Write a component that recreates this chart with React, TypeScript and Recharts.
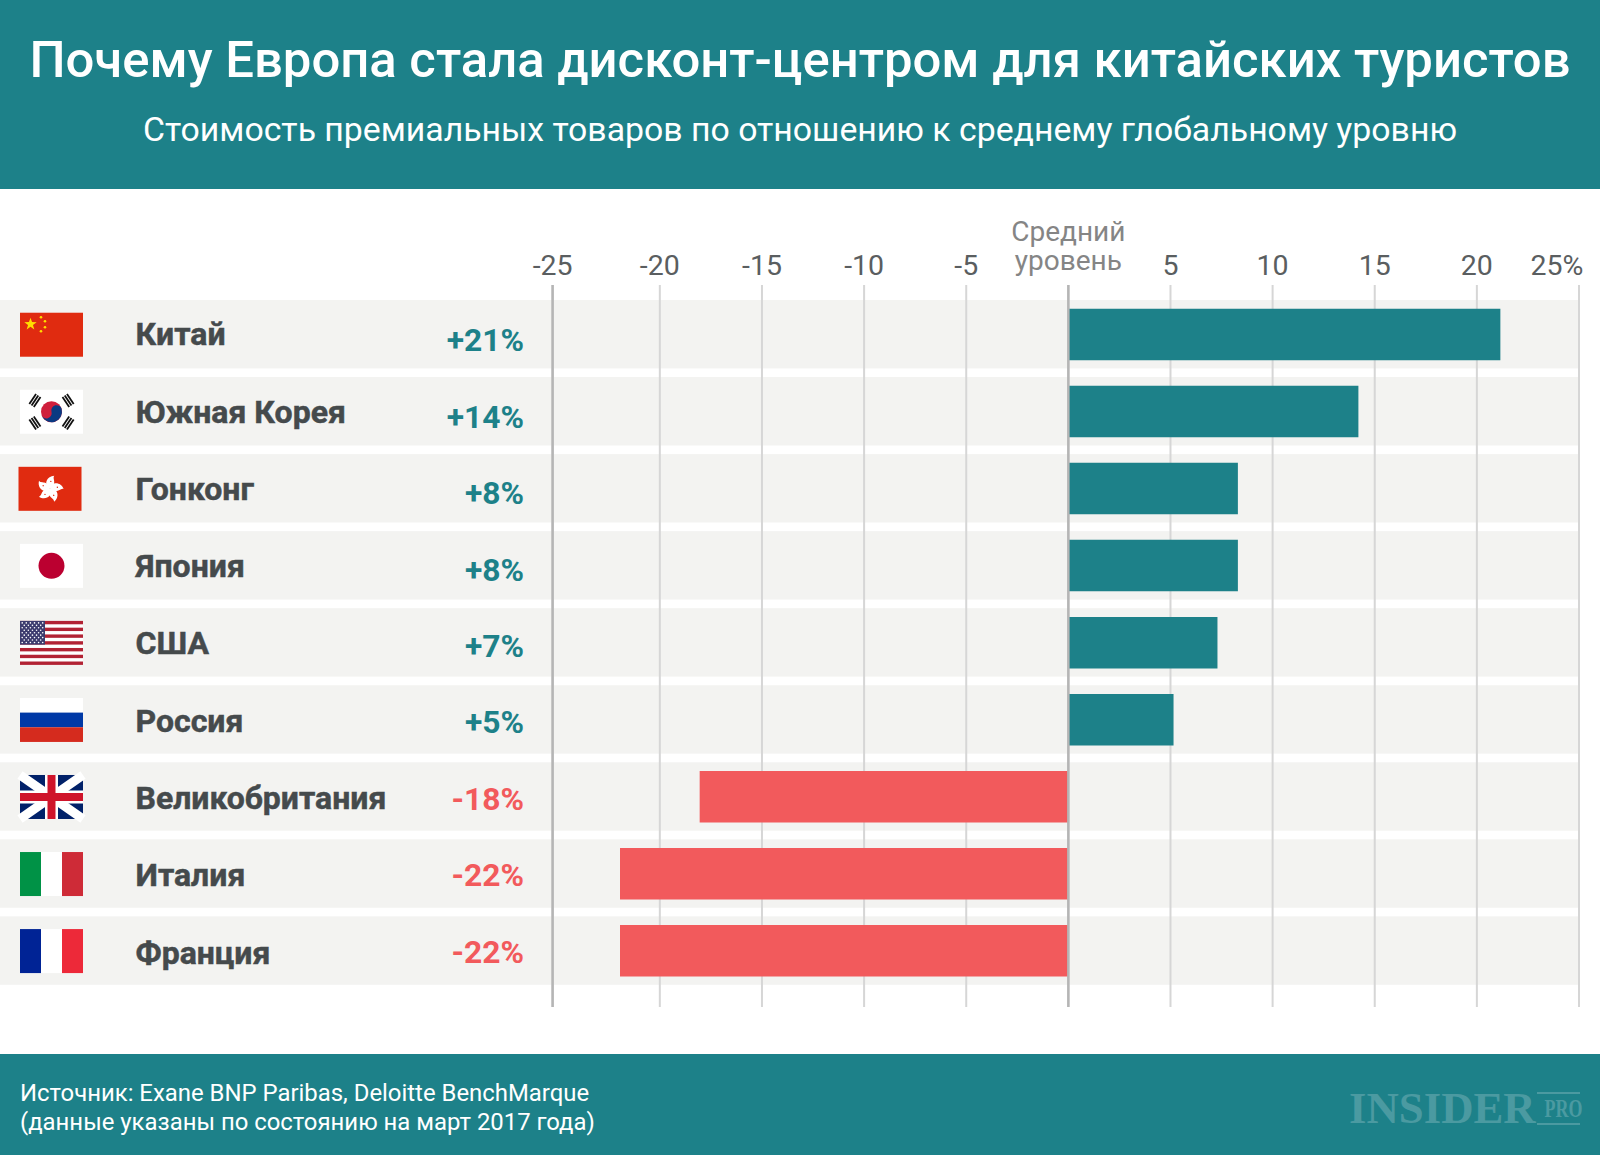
import { BarChart, Bar, Cell, XAxis, YAxis, CartesianGrid, ReferenceLine } from "recharts";

const countries = ["Китай", "Южная Корея", "Гонконг", "Япония", "США", "Россия", "Великобритания", "Италия", "Франция"];
const flagKeys = ["cn", "kr", "hk", "jp", "us", "ru", "uk", "it", "fr"];
// bar lengths as measured on the picture
const barValues = [21.15, 14.2, 8.3, 8.3, 7.3, 5.15, -18.05, -21.95, -21.95];
// rounded numbers printed in the column left of the plot
const printedValues = ["+21%", "+14%", "+8%", "+8%", "+7%", "+5%", "-18%", "-22%", "-22%"];
// the leftmost line sits a little outside the regular 5-step spacing
const axisTicks = [-25.25, -20, -15, -10, -5, 0, 5, 10, 15, 20, 25];
const tickLabels = ["-25", "-20", "-15", "-10", "-5", "", "5", "10", "15", "20", "25%"];

const TEAL = "#1d8189";
const CORAL = "#f25a5c";
const FONT = "Roboto, sans-serif";

const chartData = countries.map((name, i) => ({ name, value: barValues[i] }));
const chartMargin = { top: 225, right: 21, bottom: 148, left: 0 };
const rowPadding = { top: 10.7, bottom: 17.9 };

const starPoints = (cx: number, cy: number, r: number) =>
  Array.from({ length: 10 }, (_, i) => {
    const a = -Math.PI / 2 + (i * Math.PI) / 5;
    const rad = i % 2 ? r * 0.4 : r;
    return `${cx + rad * Math.cos(a)},${cy + rad * Math.sin(a)}`;
  }).join(" ");

const Flag = ({ kind, x, y }: { kind: string; x: number; y: number }) => {
  const w = 63;
  const h = 44;
  if (kind === "cn") {
    return (
      <g transform={`translate(${x},${y})`}>
        <rect width={w} height={h} fill="#e02b10" />
        <polygon points={starPoints(10.5, 11.5, 6.5)} fill="#ffde00" />
        <circle cx={21} cy={4.5} r={1.3} fill="#ffde00" />
        <circle cx={25} cy={8.5} r={1.3} fill="#ffde00" />
        <circle cx={25} cy={14.5} r={1.3} fill="#ffde00" />
        <circle cx={21} cy={18.5} r={1.3} fill="#ffde00" />
      </g>
    );
  }
  if (kind === "kr") {
    const cx = w / 2;
    const cy = h / 2;
    return (
      <g transform={`translate(${x},${y})`}>
        <rect width={w} height={h} fill="#fff" />
        {[-34, 34, 146, 214].map((a) => (
          <g key={a} transform={`translate(${cx},${cy}) rotate(${a + 90}) translate(0,-20)`}>
            <rect x={-6} y={-3.6} width={12} height={1.8} fill="#111" />
            <rect x={-6} y={-0.9} width={12} height={1.8} fill="#111" />
            <rect x={-6} y={1.8} width={12} height={1.8} fill="#111" />
          </g>
        ))}
        <circle cx={cx} cy={cy} r={10.5} fill="#cf1f3c" />
        <path
          d={`M${cx - 10.5},${cy} a10.5,10.5 0 0 0 21,0 a5.25,5.25 0 0 0 -10.5,0 a5.25,5.25 0 0 1 -10.5,0 z`}
          fill="#0a3a82"
          transform={`rotate(-15 ${cx} ${cy})`}
        />
      </g>
    );
  }
  if (kind === "hk") {
    const cx = w / 2;
    const cy = h / 2;
    return (
      <g transform={`translate(${x - 1.5},${y})`}>
        <rect width={w} height={h} fill="#e02b10" />
        {[10, 82, 154, 226, 298].map((a) => (
          <g key={a} transform={`rotate(${a} ${cx} ${cy})`}>
            <path
              d={`M${cx},${cy} C${cx - 8},${cy - 3} ${cx - 5},${cy - 12} ${cx + 2},${cy - 13.5} C${cx},${cy - 10} ${cx + 7},${cy - 7} ${cx},${cy} z`}
              fill="#fff"
            />
            <circle cx={cx - 0.5} cy={cy - 7.5} r={0.7} fill="#e02b10" />
          </g>
        ))}
      </g>
    );
  }
  if (kind === "jp") {
    return (
      <g transform={`translate(${x},${y})`}>
        <rect width={w} height={h} fill="#fff" />
        <circle cx={w / 2} cy={h / 2} r={13} fill="#bb0030" />
      </g>
    );
  }
  if (kind === "us") {
    const stripe = h / 13;
    return (
      <g transform={`translate(${x},${y})`}>
        <rect width={w} height={h} fill="#fff" />
        {Array.from({ length: 7 }, (_, i) => (
          <rect key={i} y={i * 2 * stripe} width={w} height={stripe} fill="#b22234" />
        ))}
        <rect width={25} height={stripe * 7} fill="#3c3b6e" />
        {Array.from({ length: 9 }, (_, r) =>
          Array.from({ length: r % 2 ? 5 : 6 }, (_, c) => (
            <circle key={`${r}-${c}`} cx={2.2 + c * 4.1 + (r % 2 ? 2.05 : 0)} cy={2 + r * 2.45} r={0.8} fill="#fff" />
          ))
        )}
      </g>
    );
  }
  if (kind === "ru") {
    return (
      <g transform={`translate(${x},${y})`}>
        <rect width={w} height={h / 3} fill="#fff" />
        <rect y={h / 3} width={w} height={h / 3} fill="#0039a6" />
        <rect y={(2 * h) / 3} width={w} height={h / 3} fill="#d52b1e" />
      </g>
    );
  }
  if (kind === "uk") {
    return (
      <g transform={`translate(${x},${y})`}>
        <rect width={w} height={h} fill="#012169" />
        <path d={`M0,0 L${w},${h} M${w},0 L0,${h}`} stroke="#fff" strokeWidth={9} />
        <path d={`M${w / 2},0 V${h} M0,${h / 2} H${w}`} stroke="#fff" strokeWidth={13} />
        <path d={`M${w / 2},0 V${h} M0,${h / 2} H${w}`} stroke="#cf142b" strokeWidth={8} />
      </g>
    );
  }
  const colors = kind === "it" ? ["#009246", "#fff", "#ce2b37"] : ["#002395", "#fff", "#ed2939"];
  return (
    <g transform={`translate(${x},${y})`}>
      {colors.map((c, i) => (
        <rect key={i} x={(i * w) / 3} width={w / 3} height={h} fill={c} />
      ))}
    </g>
  );
};

// one row: grey strip, flag, country name and printed value
const RowTick = ({ y, payload }: any) => {
  const i = countries.indexOf(payload.value);
  return (
    <g>
      <rect x={0} y={y - 34.2} width={1579} height={68.4} fill="#f3f3f1" />
      <Flag kind={flagKeys[i]} x={20} y={y - 21.5} />
      <text
        x={135.5}
        y={y + 11 + i * 0.25}
        fontFamily={FONT}
        fontWeight={700}
        fontSize={32}
        stroke="#454a4c"
        strokeWidth={0.5}
        fill="#454a4c"
      >
        {payload.value}
      </text>
      <text
        x={524}
        y={y + 17 - i * 0.6}
        textAnchor="end"
        fontFamily={FONT}
        fontWeight={700}
        fontSize={31.8}
        fill={barValues[i] >= 0 ? TEAL : CORAL}
      >
        {printedValues[i]}
      </text>
    </g>
  );
};

const ValueTick = ({ x, payload }: any) => {
  const i = axisTicks.indexOf(payload.value);
  if (payload.value === 0) {
    return (
      <text textAnchor="middle" fontFamily={FONT} fontSize={28} fill="#858585">
        <tspan x={x} y={240.5}>Средний</tspan>
        <tspan x={x} y={269.5}>уровень</tspan>
      </text>
    );
  }
  // the last label is pulled inwards so it stays on the page
  const labelX = payload.value === 25 ? x - 22 : x;
  return (
    <text x={labelX} y={274.5} textAnchor="middle" fontFamily={FONT} fontSize={28.5} fill="#5a5e60">
      {tickLabels[i]}
    </text>
  );
};

export default function App() {
  return (
    <div style={{ position: "absolute", left: 0, top: 0, width: 1600, height: 1155, background: "#fff", fontFamily: FONT, overflow: "hidden" }}>
      <div style={{ position: "absolute", left: 0, top: 0, width: 1600, height: 189, background: TEAL, color: "#fff", textAlign: "center" }}>
        <div style={{ position: "absolute", left: 0, width: 1600, top: 30, fontSize: 50.85, lineHeight: "60px", fontWeight: 500, whiteSpace: "nowrap" }}>
          Почему Европа стала дисконт-центром для китайских туристов
        </div>
        <div style={{ position: "absolute", left: 0, width: 1600, top: 108, fontSize: 33.8, lineHeight: "44px", fontWeight: 400, whiteSpace: "nowrap" }}>
          Стоимость премиальных товаров по отношению к среднему глобальному уровню
        </div>
      </div>

      {/* strips, flags and names sit in a chart of their own so that the grid and bars stay above them */}
      <div style={{ position: "absolute", left: 0, top: 0 }}>
        <BarChart width={1600} height={1155} layout="vertical" data={chartData} margin={chartMargin}>
          <YAxis type="category" dataKey="name" width={552} axisLine={false} tickLine={false} interval={0} padding={rowPadding} tick={<RowTick />} />
          <XAxis type="number" orientation="top" height={60} domain={[axisTicks[0], 25]} axisLine={false} tickLine={false} tick={false} />
        </BarChart>
      </div>

      <div style={{ position: "absolute", left: 0, top: 0 }}>
        <BarChart width={1600} height={1155} layout="vertical" data={chartData} margin={chartMargin} barSize={51.5}>
          <YAxis type="category" dataKey="name" width={552.6} axisLine={false} tickLine={false} interval={0} padding={rowPadding} tick={false} />
          <XAxis
            type="number"
            orientation="top"
            height={60}
            domain={[axisTicks[0], 25]}
            ticks={axisTicks}
            interval={0}
            axisLine={false}
            tickLine={false}
            tick={<ValueTick />}
          />
          <CartesianGrid horizontal={false} stroke="#d6d6d6" strokeWidth={2} />
          <Bar dataKey="value" isAnimationActive={false}>
            {chartData.map((d) => (
              <Cell key={d.name} fill={d.value >= 0 ? TEAL : CORAL} />
            ))}
          </Bar>
          <ReferenceLine x={axisTicks[0]} stroke="#b5b5b5" strokeWidth={2.5} />
          <ReferenceLine x={0} stroke="#b5b5b5" strokeWidth={2.5} />
        </BarChart>
      </div>

      <div style={{ position: "absolute", left: 0, top: 1054, width: 1600, height: 101, background: TEAL }}>
        <div style={{ position: "absolute", left: 20, top: 25, color: "#fff", fontSize: 23.9, lineHeight: "28.5px", whiteSpace: "nowrap" }}>
          Источник: Exane BNP Paribas, Deloitte BenchMarque
          <br />
          (данные указаны по состоянию на март 2017 года)
        </div>
        <div style={{ position: "absolute", left: 1349, top: 31, color: "#4b9aa1", fontFamily: "'Liberation Serif', serif", fontWeight: 700, fontSize: 44.8, lineHeight: "46px", whiteSpace: "nowrap" }}>
          INSIDER
        </div>
        <div style={{ position: "absolute", left: 1537, top: 38, width: 43, height: 29, borderTop: "2px solid #4b9aa1", borderBottom: "2px solid #4b9aa1", color: "#4b9aa1", fontFamily: "'Liberation Serif', serif", fontWeight: 700, fontSize: 25, lineHeight: "29px", textAlign: "center" }}>
          <span style={{ display: "inline-block", transform: "scaleX(0.72)", transformOrigin: "center" }}>PRO</span>
        </div>
      </div>
    </div>
  );
}
